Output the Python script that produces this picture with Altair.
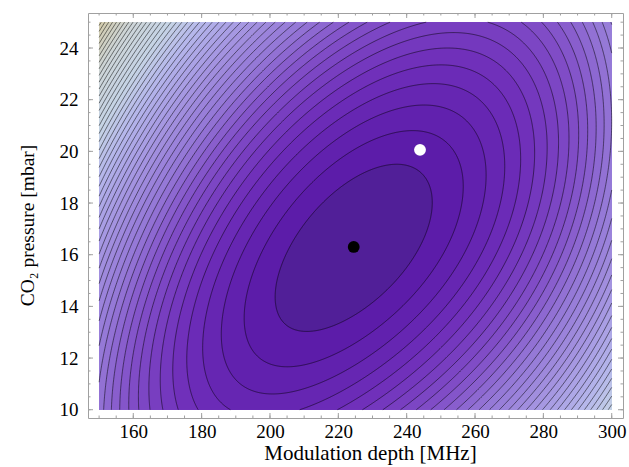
import numpy as np
import pandas as pd
import altair as alt

alt.data_transformers.disable_max_rows()

# ---------------- axes / frame ----------------
x_ticks = [160, 180, 200, 220, 240, 260, 280, 300]
y_ticks = [10, 12, 14, 16, 18, 20, 22, 24]
x_minor = list(range(150, 301, 5))
y_minor = [v / 2 for v in range(20, 51)]
x_box = [150.0, 300.0]          # extent of the computed map
y_box = [10.0, 25.0]
x_domain = [146.75, 303.3]      # frame extent
y_domain = [9.68, 25.355]

# ---------------- markers ----------------
best_x, best_y = [224.5], [16.3]       # black dot
start_x, start_y = [243.9], [20.06]    # white dot

# ---------------- surface (chi^2-like valley) ----------------
# f = ((dy - g(dx))/width_y)^2 + (dx/width_x)^2 + (dx/width_x4)^4
# g(dx) = slope*dx + curv*dx^2
center_x = 224.5
center_y = 16.3
slope = 0.0794
curv = -0.0002
width_y = 2.657
width_x = 23.35
width_x4 = 55.0

# ---------------- colours (by level value) ----------------
stop_f = [0, 1.5, 5, 10, 14, 20, 26, 32, 40, 48]
stop_col = ["#4b2090", "#5c1ca9", "#6e2db9", "#8250c8", "#9476d6", "#a596e1",
            "#b4b4eb", "#c6d4e6", "#cdd5d8", "#d2cbac"]


def hex2rgb(h):
    return [int(h[i:i + 2], 16) for i in (1, 3, 5)]


def colour(v):
    rgbs = [hex2rgb(c) for c in stop_col]
    rgb = [np.interp(v, stop_f, [c[k] for c in rgbs]) for k in range(3)]
    return "#%02x%02x%02x" % tuple(int(round(c)) for c in rgb)


def g(dx):
    return slope * dx + curv * dx ** 2


def q(dx):
    return (dx / width_x) ** 2 + (dx / width_x4) ** 4


def fval(x, y):
    dx = x - center_x
    dy = y - center_y
    return ((dy - g(dx)) / width_y) ** 2 + q(dx)


def half_range(L):
    a = 1 / width_x4 ** 4
    b = 1 / width_x ** 2
    u = (-b + np.sqrt(b * b + 4 * a * L)) / (2 * a)
    return np.sqrt(u)


corners = [fval(a, b) for a in x_box for b in y_box]
fmax = max(corners)
top_level = int(np.floor(fmax))
levels = list(range(1, top_level + 1))


def band_colour(k):
    return colour(k + 0.5)


def region(L):
    rx = half_range(L)
    t = np.linspace(0, np.pi, 361)
    dxs = np.concatenate([rx * np.cos(t),
                          np.arange(x_box[0], x_box[1] + 1e-9, 0.5) - center_x,
                          [x_box[0] - center_x, x_box[1] - center_x]])
    keep = (np.abs(dxs) <= rx) & (dxs >= x_box[0] - center_x) & (dxs <= x_box[1] - center_x)
    dxs = np.unique(np.round(dxs[keep], 6))
    h = width_y * np.sqrt(np.clip(L - q(dxs), 0, None))
    c = center_y + g(dxs)
    lo = np.clip(c - h, y_box[0], y_box[1])
    hi = np.clip(c + h, y_box[0], y_box[1])
    return pd.DataFrame({"x": np.round(dxs + center_x, 4), "lo": np.round(lo, 4), "hi": np.round(hi, 4)})


def clip_seg(x0, y0, x1, y1):
    ddx, ddy = x1 - x0, y1 - y0
    p = [-ddx, ddx, -ddy, ddy]
    qq = [x0 - x_box[0], x_box[1] - x0, y0 - y_box[0], y_box[1] - y0]
    u0, u1 = 0.0, 1.0
    for pi, qi in zip(p, qq):
        if pi == 0:
            if qi < 0:
                return None
        else:
            r = qi / pi
            if pi < 0:
                u0 = max(u0, r)
            else:
                u1 = min(u1, r)
    if u0 > u1:
        return None
    return (x0 + u0 * ddx, y0 + u0 * ddy, x0 + u1 * ddx, y0 + u1 * ddy, u0 == 0.0, u1 == 1.0)


rows = []
seg_id = 0
for L in levels:
    rx = half_range(L)
    t = np.linspace(0, 2 * np.pi, 1201)
    dx = rx * np.cos(t)
    sgn = np.where(np.sin(t) >= 0, 1.0, -1.0)
    dy = g(dx) + sgn * width_y * np.sqrt(np.clip(L - q(dx), 0, None))
    X = dx + center_x
    Y = dy + center_y
    open_line = False
    idx = 0
    for i in range(len(X) - 1):
        res = clip_seg(X[i], Y[i], X[i + 1], Y[i + 1])
        if res is None:
            open_line = False
            continue
        ax, ay, bx, by, s_in, e_in = res
        if not (open_line and s_in):
            seg_id += 1
            idx = 0
            rows.append((ax, ay, seg_id, idx))
            idx += 1
        rows.append((bx, by, seg_id, idx))
        idx += 1
        open_line = e_in
lines_df = pd.DataFrame(rows, columns=["x", "y", "seg", "i"]).round({"x": 4, "y": 4})

xs = alt.Scale(domain=x_domain, nice=False, zero=False)
ys = alt.Scale(domain=y_domain, nice=False, zero=False)

FONT = "Liberation Serif"
W, H = 535, 405

x_axis = alt.Axis(values=x_ticks, title="Modulation depth [MHz]", ticks=False, domain=False,
                  grid=False, labelPadding=4, titlePadding=1, titleFontSize=21,
                  titleX=282, format="d")
y_axis = alt.Axis(values=y_ticks, title="CO\u2082 pressure [mbar]", ticks=False, domain=False,
                  grid=False, labelPadding=10, titlePadding=22, titleFontSize=19.5,
                  titleY=212, format="d")


def X(field):
    return alt.X(field, scale=xs, axis=x_axis)


def Y(field):
    return alt.Y(field, scale=ys, axis=y_axis)


layers = []
bg = alt.Chart(pd.DataFrame({"x": [x_box[0]], "x2": [x_box[1]], "y": [y_box[0]], "y2": [y_box[1]]})).mark_rect(
    color=band_colour(top_level), strokeWidth=0).encode(
    x=X("x:Q"), x2="x2:Q", y=Y("y:Q"), y2="y2:Q")
layers.append(bg)

for L in sorted(levels, reverse=True):
    d = region(L)
    layers.append(alt.Chart(d).mark_area(color=band_colour(L - 1), orient="vertical", strokeWidth=0).encode(
        x=X("x:Q"), y=Y("lo:Q"), y2="hi:Q"))

layers.append(alt.Chart(lines_df).mark_line(color="#000000", opacity=0.5, strokeWidth=1.0).encode(
    x=X("x:Q"), y=Y("y:Q"), detail="seg:N", order="i:Q"))

# frame ticks (pointing inward)
tick_col = "#a0a0a0"
xmaj = pd.DataFrame({"v": x_ticks})
xmin_df = pd.DataFrame({"v": x_minor})
ymaj = pd.DataFrame({"v": y_ticks})
ymin_df = pd.DataFrame({"v": y_minor})
for df_, ln in ((xmaj, 5), (xmin_df, 2.5)):
    layers.append(alt.Chart(df_).mark_rule(color=tick_col, strokeWidth=1).encode(
        x=X("v:Q"), y=alt.value(H), y2=alt.value(H - ln)))
    layers.append(alt.Chart(df_).mark_rule(color=tick_col, strokeWidth=1).encode(
        x=X("v:Q"), y=alt.value(0), y2=alt.value(ln)))
for df_, ln in ((ymaj, 5), (ymin_df, 2.5)):
    layers.append(alt.Chart(df_).mark_rule(color=tick_col, strokeWidth=1).encode(
        y=Y("v:Q"), x=alt.value(0), x2=alt.value(ln)))
    layers.append(alt.Chart(df_).mark_rule(color=tick_col, strokeWidth=1).encode(
        y=Y("v:Q"), x=alt.value(W), x2=alt.value(W - ln)))

layers.append(alt.Chart(pd.DataFrame({"x": best_x, "y": best_y})).mark_circle(
    color="#000000", opacity=1, size=140).encode(x=X("x:Q"), y=Y("y:Q")))
layers.append(alt.Chart(pd.DataFrame({"x": start_x, "y": start_y})).mark_circle(
    color="#ffffff", opacity=1, size=140).encode(x=X("x:Q"), y=Y("y:Q")))

chart = alt.layer(*layers).properties(
    width=W, height=H,
    autosize=alt.AutoSizeParams(type="none"),
    padding={"left": 88, "top": 13, "right": 6, "bottom": 49},
).configure_view(stroke="#a0a0a0", strokeWidth=1).configure_axis(
    labelFont=FONT, labelFontSize=19, labelColor="#000000",
    titleFont=FONT, titleFontWeight="normal", titleColor="#000000",
)

chart.save("out.html", embed_options={"renderer": "svg", "actions": False})
